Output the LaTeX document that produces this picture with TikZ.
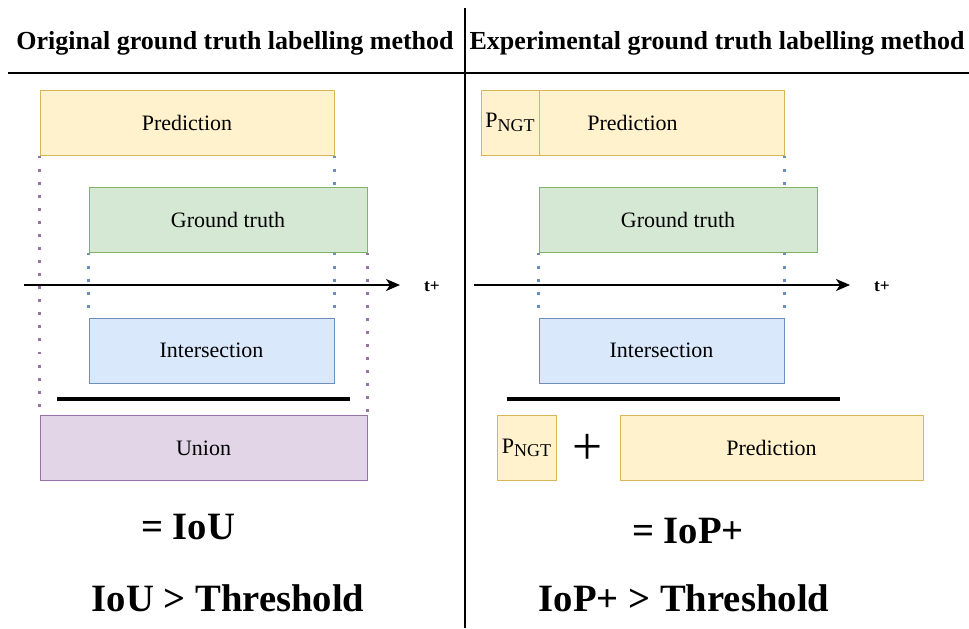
\documentclass[tikz,border=0pt]{standalone}
\usepackage{fontspec}
\setmainfont{Liberation Serif}
\usetikzlibrary{arrows.meta}
\definecolor{predfill}{HTML}{FFF2CC}
\definecolor{preddraw}{HTML}{D6B656}
\definecolor{gtfill}{HTML}{D5E8D4}
\definecolor{gtdraw}{HTML}{82B366}
\definecolor{interfill}{HTML}{DAE8FC}
\definecolor{interdraw}{HTML}{6C8EBF}
\definecolor{unionfill}{HTML}{E1D5E7}
\definecolor{uniondraw}{HTML}{9673A6}
\newcommand{\pngt}{P\raisebox{-0.35ex}{\fontsize{13.5}{14}\selectfont NGT}}
\tikzset{
  box/.style={draw, line width=0.75pt, minimum height=48.75pt, inner sep=0pt,
    font=\fontsize{16.5}{18}\selectfont},
  predbox/.style={box, fill=predfill, draw=preddraw},
  gtbox/.style={box, fill=gtfill, draw=gtdraw},
  interbox/.style={box, fill=interfill, draw=interdraw},
  unionbox/.style={box, fill=unionfill, draw=uniondraw},
  guide/.style={line width=2.2pt, dash pattern=on 2.2pt off 7.6pt},
  axis/.style={line width=1.1pt, -{Stealth[length=10.5pt,width=9pt,inset=3pt]}},
  bar/.style={line width=3pt},
  header/.style={font=\bfseries\fontsize{19.5}{22}\selectfont},
  result/.style={font=\bfseries\fontsize{29}{32}\selectfont},
  tlabel/.style={font=\bfseries\fontsize{13}{15}\selectfont}
}
\begin{document}
\begin{tikzpicture}[x=0.75pt,y=-0.75pt]
  \useasboundingbox (0,0) rectangle (969,628);
  \draw[line width=1pt] (465,8) -- (465,628);
  \draw[line width=1pt] (8,73) -- (969,73);
  \node[header] (hL) at (235,43) {Original ground truth labelling method};
  \node[header] (hR) at (717,43) {Experimental ground truth labelling method};

  \node[predbox, minimum width=220.5pt] (predL) at (187,122.5) {Prediction};
  \node[gtbox, minimum width=208.5pt] (gtL) at (228,219.5) {Ground truth};
  \node[interbox, minimum width=183.75pt] (interL) at (211.5,350.5) {Intersection};
  \node[unionbox, minimum width=245.25pt] (unionL) at (203.5,448) {Union};
  \coordinate (axL0) at (24,285);
  \coordinate (axL1) at (400,285);
  \node[tlabel] (tL) at (432,287) {t+};
  \coordinate (barL0) at (57,399);
  \coordinate (barL1) at (350,399);
  \node[result] (eqL) at (188,527) {= IoU};
  \node[result] (thL) at (228,598) {IoU > Threshold};

  \node[predbox, minimum width=227.25pt] (predR) at (632.5,122.5) {Prediction};
  \node[predbox, minimum width=43.5pt] (pngtR) at (510,122.5) {\pngt};
  \node[gtbox, minimum width=208.5pt] (gtR) at (678,219.5) {Ground truth};
  \node[interbox, minimum width=183.75pt] (interR) at (661.5,350.5) {Intersection};
  \node[predbox, minimum width=44.25pt] (pngtB) at (526.5,448) {\pngt};
  \node[font=\fontsize{40}{42}\selectfont] (plus) at (588,449) {+};
  \node[predbox, minimum width=227.25pt] (predB) at (771.5,448) {Prediction};
  \coordinate (axR0) at (474,285);
  \coordinate (axR1) at (850,285);
  \node[tlabel] (tR) at (882,287) {t+};
  \coordinate (barR0) at (507,399);
  \coordinate (barR1) at (840,399);
  \node[result] (eqR) at (688,531) {= IoP+};
  \node[result] (thR) at (684,598) {IoP+ > Threshold};

  \begin{scope}[guide, draw=interdraw]
    \draw (predL.south east) -- (predL.south east |- gtL.north);
    \draw (gtL.south west) -- (interL.north west);
    \draw (interL.north east |- gtL.south) -- (interL.north east);
    \draw (predR.south east) -- (predR.south east |- gtR.north);
    \draw (gtR.south west) -- (interR.north west);
    \draw (interR.north east |- gtR.south) -- (interR.north east);
  \end{scope}
  \begin{scope}[guide, draw=uniondraw]
    \draw (predL.south west) -- (unionL.north west);
    \draw (gtL.south east) -- (unionL.north east);
  \end{scope}
  \draw[axis] (axL0) -- (axL1);
  \draw[axis] (axR0) -- (axR1);
  \draw[bar] (barL0) -- (barL1);
  \draw[bar] (barR0) -- (barR1);
\end{tikzpicture}
\end{document}
